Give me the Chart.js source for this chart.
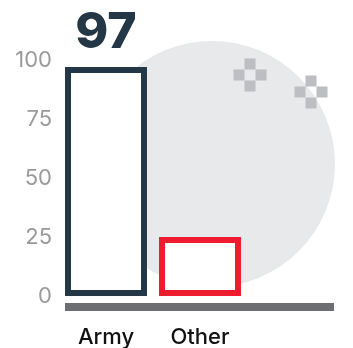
<!DOCTYPE html>
<html>
<head>
<meta charset="utf-8">
<script src="https://cdn.jsdelivr.net/npm/chart.js@4/dist/chart.umd.min.js"></script>
<style>
  html, body { margin: 0; padding: 0; background: #ffffff; }
  #wrap { width: 353px; height: 348px; position: relative; }
</style>
</head>
<body>
<div id="wrap"><canvas id="c" width="353" height="348"></canvas></div>
<script>
const categories = ['Army', 'Other'];
const values = [97, 25];
const borderColors = ['#243747', '#ee1c2e'];
const highlightLabel = '97';
const yTicks = [0, 25, 50, 75, 100];

const decorPlugin = {
  id: 'decor',
  beforeDraw(chart) {
    const ctx = chart.ctx;
    ctx.save();
    ctx.fillStyle = '#e8e9eb';
    ctx.beginPath();
    ctx.arc(212, 164, 123, 0, Math.PI * 2);
    ctx.fill();
    ctx.fillStyle = '#bdbec2';
    const cross = (cx, cy, s) => {
      ctx.fillRect(cx - s / 2, cy - 1.5 * s, s, s);
      ctx.fillRect(cx - 1.5 * s, cy - s / 2, s, s);
      ctx.fillRect(cx + s / 2, cy - s / 2, s, s);
      ctx.fillRect(cx - s / 2, cy + s / 2, s, s);
    };
    cross(250, 75, 11);
    cross(311, 92, 11);
    ctx.restore();
  },
  afterDatasetsDraw(chart) {
    const ctx = chart.ctx;
    const meta = chart.getDatasetMeta(0);
    const first = meta.data[0];
    const props = first.getProps(['x', 'y', 'base', 'width'], true);
    ctx.save();
    // baseline
    const left = props.x - props.width / 2;
    ctx.fillStyle = '#6d6e71';
    ctx.fillRect(left, chart.chartArea.bottom + 7, 334 - left, 8);
    // value label
    ctx.fillStyle = '#243747';
    ctx.font = '800 50px Inter, "DejaVu Sans", sans-serif';
    ctx.textAlign = 'center';
    ctx.textBaseline = 'alphabetic';
    ctx.fillText(highlightLabel, props.x, 48);
    ctx.restore();
  }
};

new Chart(document.getElementById('c'), {
  type: 'bar',
  data: {
    labels: categories,
    datasets: [{
      data: values,
      backgroundColor: '#ffffff',
      borderColor: borderColors,
      borderWidth: 6,
      borderSkipped: false,
      categoryPercentage: 1,
      barPercentage: 0.872
    }]
  },
  options: {
    responsive: false,
    animation: false,
    events: [],
    layout: { padding: { top: 60, right: 106, left: 0, bottom: 0 } },
    plugins: { legend: { display: false }, tooltip: { enabled: false } },
    scales: {
      x: {
        afterFit(scale) { scale.height = 52; },
        grid: { display: false, drawTicks: false },
        border: { display: false },
        ticks: {
          color: '#111111',
          font: { family: 'Inter', size: 22, weight: '500' },
          padding: 28,
          maxRotation: 0
        }
      },
      y: {
        min: 0,
        max: 100,
        afterBuildTicks(scale) { scale.ticks = yTicks.map(v => ({ value: v })); },
        afterFit(scale) { scale.width = 59; },
        grid: { display: false, drawTicks: false },
        border: { display: false },
        ticks: {
          color: '#9a9a9a',
          font: { family: 'Inter', size: 22, weight: '400' },
          padding: 7
        }
      }
    }
  },
  plugins: [decorPlugin]
});
</script>
</body>
</html>
